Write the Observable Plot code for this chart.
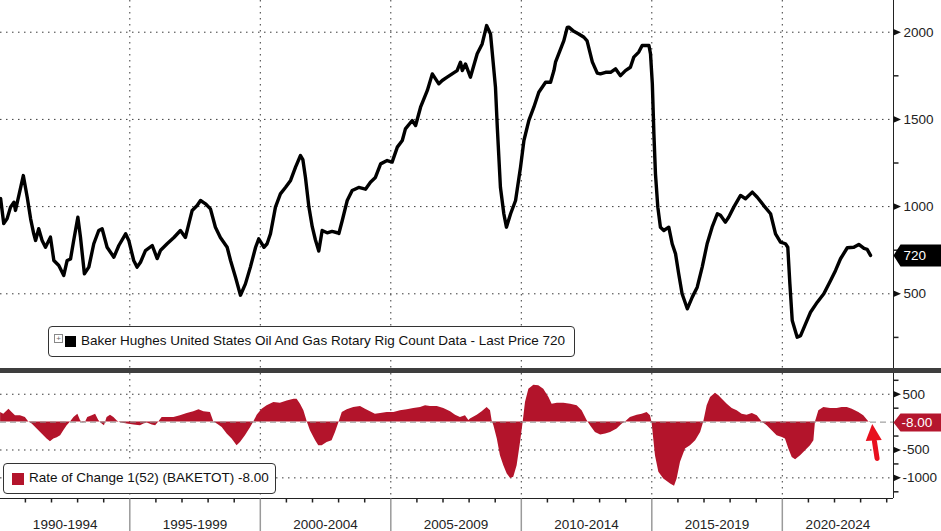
<!DOCTYPE html>
<html>
<head>
<meta charset="utf-8">
<script src="https://cdn.jsdelivr.net/npm/d3@7"></script>
<script src="https://cdn.jsdelivr.net/npm/@observablehq/plot@0.6"></script>
<style>
  html, body { margin: 0; padding: 0; background: #fff; }
  #wrap { position: relative; width: 941px; height: 531px; overflow: hidden; font-family: "Liberation Sans", Arial, sans-serif; }
  .panel { position: absolute; left: 0; }
  .sep { position: absolute; left: 0; top: 368px; width: 941px; height: 5px; background: #3e3e3e; }
  .legend { position: absolute; background: #fff; border: 1px solid #333; border-radius: 4px; box-sizing: border-box; }
  .legend span { position: absolute; white-space: nowrap; }
</style>
</head>
<body>
<div id="wrap">
  <div id="top" class="panel" style="top:0px"></div>
  <div class="sep"></div>
  <div id="bottom" class="panel" style="top:373px"></div>
  <div class="legend" style="left:48px;top:326px;width:527px;height:31px;">
    <span style="left:5px;top:7px;width:7px;height:7px;border:1px solid #888;font-size:8px;line-height:7px;text-align:center;color:#666;">+</span>
    <span style="left:16px;top:9px;width:11px;height:11px;background:#000;"></span>
    <span id="leg1" style="left:32px;top:6px;font-size:13.5px;color:#111;">Baker Hughes United States Oil And Gas Rotary Rig Count Data - Last Price 720</span>
  </div>
  <div class="legend" style="left:3px;top:463px;width:273px;height:31px;">
    <span style="left:8px;top:9px;width:12px;height:12px;background:#b3142b;"></span>
    <span id="leg2" style="left:25px;top:6px;font-size:13.5px;color:#111;">Rate of Change 1(52) (BAKETOT) -8.00</span>
  </div>
</div>
<script>
// ---------- DATA ----------
const rigYear = [
  1990.05,1990.17,1990.30,1990.43,1990.56,1990.62,1990.75,1990.92,1991.07,1991.20,
  1991.32,1991.39,1991.51,1991.64,1991.77,1991.96,1992.09,1992.28,1992.47,1992.60,
  1992.73,1992.85,1993.01,1993.11,1993.26,1993.43,1993.62,1993.81,1993.94,1994.13,
  1994.39,1994.58,1994.84,1994.96,1995.15,1995.28,1995.41,1995.60,1995.86,1996.05,
  1996.18,1996.43,1996.69,1996.94,1997.13,1997.26,1997.39,1997.58,1997.71,1997.90,
  1998.09,1998.28,1998.47,1998.73,1998.86,1999.05,1999.24,1999.43,1999.62,1999.82,
  1999.94,2000.14,2000.26,2000.39,2000.58,2000.77,2000.97,2001.16,2001.35,2001.54,
  2001.63,2001.73,2001.86,2001.99,2002.11,2002.24,2002.37,2002.56,2002.75,2002.95,
  2003.01,2003.14,2003.33,2003.52,2003.77,2004.03,2004.22,2004.41,2004.61,2004.86,
  2005.05,2005.25,2005.44,2005.56,2005.82,2005.95,2006.14,2006.40,2006.59,2006.84,
  2006.97,2007.16,2007.35,2007.54,2007.67,2007.74,2007.86,2008.05,2008.31,2008.50,
  2008.67,2008.82,2009.01,2009.08,2009.20,2009.33,2009.43,2009.59,2009.78,2009.97,
  2010.10,2010.29,2010.48,2010.67,2010.93,2011.12,2011.25,2011.31,2011.63,2011.76,
  2011.82,2012.01,2012.20,2012.40,2012.52,2012.72,2012.91,2013.03,2013.23,2013.42,
  2013.61,2013.80,2013.99,2014.18,2014.31,2014.50,2014.63,2014.89,2014.95,2015.02,
  2015.08,2015.14,2015.23,2015.33,2015.46,2015.65,2015.78,2015.91,2016.03,2016.16,
  2016.36,2016.55,2016.74,2016.93,2017.12,2017.31,2017.51,2017.63,2017.82,2017.95,
  2018.14,2018.40,2018.59,2018.85,2019.04,2019.29,2019.55,2019.74,2019.93,2020.12,
  2020.21,2020.29,2020.38,2020.57,2020.70,2020.89,2021.08,2021.34,2021.59,2021.85,
  2022.04,2022.23,2022.49,2022.74,2022.93,2023.13,2023.25,2023.38
];
const rigCount = [
  1046,903,931,997,1025,978,1064,1178,1054,930,
  844,806,873,806,767,825,691,662,605,691,
  700,806,939,825,615,653,787,863,873,767,
  710,777,844,806,691,653,681,748,777,702,
  750,787,823,863,823,901,978,1006,1035,1016,
  987,882,823,767,691,595,492,557,653,767,
  815,767,787,844,997,1073,1111,1150,1226,1293,
  1270,1167,1000,885,810,745,863,850,858,850,
  846,920,1035,1092,1110,1100,1140,1167,1245,1264,
  1255,1341,1379,1446,1494,1465,1570,1666,1761,1704,
  1723,1742,1761,1780,1828,1780,1818,1742,1876,1933,
  2038,1990,1685,1455,1111,959,882,959,1035,1226,
  1379,1494,1570,1656,1713,1713,1780,1828,1952,2027,
  2029,2005,1990,1971,1950,1830,1765,1761,1770,1770,
  1790,1751,1780,1799,1857,1886,1924,1924,1876,1704,
  1417,1188,997,882,863,882,787,729,615,500,
  414,481,538,653,787,882,959,950,911,940,
  997,1064,1045,1083,1054,1006,959,844,796,787,
  767,557,347,251,260,328,394,452,500,576,
  634,701,764,767,783,760,755,720
];
const rocYear = [
  1990.05,1990.17,1990.37,1990.49,1990.62,1990.81,1991.00,1991.13,1991.26,1991.45,
  1991.64,1991.83,1991.96,1992.09,1992.22,1992.35,1992.47,1992.60,1992.73,1992.86,
  1993.01,1993.11,1993.18,1993.30,1993.39,1993.56,1993.69,1993.81,1993.94,1994.03,
  1994.13,1994.26,1994.39,1994.52,1994.64,1994.90,1995.16,1995.41,1995.54,1995.67,
  1995.86,1995.99,1996.11,1996.24,1996.43,1996.69,1996.94,1997.20,1997.45,1997.65,
  1997.84,1998.09,1998.22,1998.35,1998.54,1998.73,1998.92,1999.11,1999.24,1999.43,
  1999.63,1999.75,1999.88,2000.07,2000.26,2000.52,2000.77,2001.03,2001.29,2001.41,
  2001.54,2001.67,2001.80,2001.92,2002.12,2002.24,2002.37,2002.56,2002.75,2002.88,
  2003.01,2003.14,2003.33,2003.58,2003.84,2004.03,2004.22,2004.41,2004.61,2004.86,
  2005.12,2005.37,2005.63,2005.88,2006.14,2006.33,2006.52,2006.78,2007.03,2007.29,
  2007.48,2007.67,2007.86,2007.99,2008.05,2008.31,2008.50,2008.69,2008.82,2008.88,
  2008.95,2009.08,2009.20,2009.33,2009.46,2009.59,2009.71,2009.84,2009.97,2010.07,
  2010.16,2010.29,2010.48,2010.67,2010.86,2011.06,2011.18,2011.38,2011.63,2011.89,
  2012.14,2012.33,2012.52,2012.65,2012.84,2013.04,2013.23,2013.42,2013.67,2013.87,
  2013.99,2014.18,2014.44,2014.63,2014.82,2014.95,2015.01,2015.14,2015.27,2015.46,
  2015.72,2015.87,2015.97,2016.10,2016.29,2016.48,2016.68,2016.87,2016.99,2017.12,
  2017.25,2017.44,2017.57,2017.70,2017.89,2018.08,2018.27,2018.46,2018.65,2018.85,
  2019.04,2019.23,2019.42,2019.61,2019.80,2020.00,2020.12,2020.25,2020.38,2020.51,
  2020.70,2020.89,2021.08,2021.21,2021.27,2021.40,2021.59,2021.85,2022.10,2022.29,
  2022.49,2022.68,2022.93,2023.12,2023.32,2023.38
];
const rocValue = [
  172,143,233,172,113,113,84,0,-36,-125,
  -215,-304,-353,-304,-280,-245,-156,-66,0,83,
  143,30,-10,-5,83,113,143,30,-36,-66,
  83,125,83,20,-10,-36,-50,-66,-36,-15,
  -50,-66,0,83,83,83,113,155,185,220,
  185,172,0,-36,-95,-215,-304,-424,-364,-245,
  -95,0,125,233,292,351,340,381,411,411,
  321,202,0,-156,-334,-424,-424,-364,-334,-185,
  -10,172,220,262,280,233,185,143,155,172,
  172,202,220,244,262,292,280,280,244,185,
  125,83,113,30,54,125,185,262,202,30,
  -66,-304,-603,-782,-931,-1010,-990,-782,-364,-10,
  351,591,662,651,591,441,321,340,340,321,
  292,202,30,-66,-185,-233,-215,-185,-125,-36,
  0,83,125,143,172,113,-10,-603,-901,-1020,
  -1110,-1152,-1020,-722,-483,-424,-334,-185,0,292,
  441,518,471,411,321,244,202,143,125,155,
  113,0,-66,-156,-245,-275,-304,-483,-633,-675,
  -603,-513,-424,-334,0,202,262,244,244,262,
  262,233,172,113,0,-8
];
const topTicks = [500, 1000, 1500, 2000];
const topMinor = [250, 750, 1250, 1750];
const bottomTicks = [500, -500, -1000];
const bottomMinor = [750, 250, -250, -750, -1250];
const periodStarts = [1990, 1995, 2000, 2005, 2010, 2015, 2020];
const periodLabels = ["1990-1994", "1995-1999", "2000-2004", "2005-2009", "2010-2014", "2015-2019", "2020-2024"];
const lastPrice = 720;
const lastRoc = -8.00;
const arrowNote = [{x1: 2023.63, y1: -652, x2: 2023.53, y2: -345, tipX: 2023.445, tipY: -32}];

// ---------- helpers ----------
const xDomain = [1990.046, 2024.26];
const xMax = xDomain[1];
const rig = rigYear.map((x, i) => ({x, y: rigCount[i]}));
const roc = rocYear.map((x, i) => ({x, y: rocValue[i]}));
const yearTicks = d3.range(1991, 2025).filter(y => y % 5 !== 0);
const periods = periodStarts.map((s, i) => {
  const a = Math.max(s, xDomain[0]), b = Math.min(s + 5, xDomain[1]);
  return {mid: (a + b) / 2, label: periodLabels[i]};
});
const sym = f => ({draw(ctx, size) { f(ctx, Math.sqrt(size / Math.PI)); }});
const triRight = sym((c) => { c.moveTo(0, -3.3); c.lineTo(7.5, 0); c.lineTo(0, 3.3); c.closePath(); });
const hTick = sym((c) => { c.moveTo(0, 0); c.lineTo(5, 0); });
const vTick = len => sym((c) => { c.moveTo(0, 0); c.lineTo(0, len); });
const tag = (w, h) => sym((c) => { c.moveTo(0, 0); c.lineTo(7, -h / 2); c.lineTo(w, -h / 2); c.lineTo(w, h / 2); c.lineTo(7, h / 2); c.closePath(); });
const arrowHead = sym((c) => { c.moveTo(0, 0); c.lineTo(-6.5, 17); c.lineTo(9.5, 16); c.closePath(); });
const dotted = {stroke: "#3a3a3a", strokeWidth: 1, strokeDasharray: "1.5,4.5"};
const font = {fontFamily: "Liberation Sans, Arial, sans-serif", fontSize: "13.5px", background: "transparent", overflow: "visible"};
const RED = "#b3142b";

// ---------- top panel ----------
const topPlot = Plot.plot({
  width: 941, height: 368,
  marginLeft: 0, marginRight: 48, marginTop: 0, marginBottom: 0,
  style: font,
  x: {domain: xDomain, axis: null},
  y: {domain: [71.7, 2181.8], axis: null},
  marks: [
    Plot.ruleY(topTicks, dotted),
    Plot.ruleX(periodStarts.slice(1), dotted),
    Plot.line(rig, {x: "x", y: "y", stroke: "#000", strokeWidth: 3.4, strokeLinejoin: "round", strokeLinecap: "round"}),
    Plot.ruleX([xMax], {stroke: "#222", strokeWidth: 1}),
    Plot.dot(topMinor, {x: () => xMax, y: d => d, symbol: hTick, r: 3, stroke: "#222", fill: "none"}),
    Plot.dot(topTicks, {x: () => xMax, y: d => d, symbol: triRight, r: 3, fill: "#111", stroke: "none"}),
    Plot.text(topTicks, {x: () => xMax, y: d => d, text: d => String(d), textAnchor: "start", dx: 10, fill: "#222", fontSize: 13.5}),
    Plot.dot([lastPrice], {x: () => xMax, y: d => d, symbol: tag(48, 22), r: 3, fill: "#000", stroke: "none"}),
    Plot.text([lastPrice], {x: () => xMax, y: d => d, text: d => String(d), textAnchor: "start", dx: 10, fill: "#fff", fontSize: 13.5})
  ]
});
document.getElementById("top").appendChild(topPlot);

// ---------- bottom panel ----------
const yB = [-1370, 872];
const bottomPlot = Plot.plot({
  width: 941, height: 158,
  marginLeft: 0, marginRight: 48, marginTop: 0, marginBottom: 33,
  style: font,
  x: {domain: xDomain, axis: null},
  y: {domain: yB, axis: null},
  marks: [
    Plot.ruleY(bottomTicks, dotted),
    Plot.ruleX(periodStarts.slice(1), dotted),
    Plot.areaY(roc, {x: "x", y: "y", fill: RED, curve: "linear"}),
    Plot.ruleY([0], {stroke: "#8c8c8c", strokeWidth: 1, strokeDasharray: "6,4"}),
    Plot.ruleX([xMax], {stroke: "#222", strokeWidth: 1}),
    Plot.ruleY([yB[0]], {stroke: "#222", strokeWidth: 1}),
    Plot.dot(bottomMinor, {x: () => xMax, y: d => d, symbol: hTick, r: 3, stroke: "#222", fill: "none"}),
    Plot.dot(bottomTicks, {x: () => xMax, y: d => d, symbol: triRight, r: 3, fill: "#111", stroke: "none"}),
    Plot.text(bottomTicks, {x: () => xMax, y: d => d, text: d => String(d), textAnchor: "start", dx: 9, fill: "#222", fontSize: 13.5}),
    Plot.dot([lastRoc], {x: () => xMax, y: d => d, symbol: tag(48, 18), r: 3, fill: "#b5162e", stroke: "none"}),
    Plot.text([lastRoc], {x: () => xMax, y: d => d, text: d => d.toFixed(2), textAnchor: "start", dx: 8, fill: "#fff", fontSize: 13.5}),
    Plot.dot(yearTicks, {x: d => d, y: () => yB[0], symbol: vTick(4), r: 3, stroke: "#222", fill: "none"}),
    Plot.dot(periodStarts.slice(1), {x: d => d, y: () => yB[0], symbol: vTick(34), r: 3, stroke: "#9a9a9a", fill: "none"}),
    Plot.text(periods, {x: "mid", y: () => yB[0], text: "label", dy: 26, fill: "#222", fontSize: 13.5}),
    Plot.link(arrowNote, {x1: "x1", y1: "y1", x2: "x2", y2: "y2", stroke: "#e8101e", strokeWidth: 5, strokeLinecap: "round"}),
    Plot.dot(arrowNote, {x: "tipX", y: "tipY", symbol: arrowHead, r: 3, fill: "#e8101e", stroke: "none"})
  ]
});
document.getElementById("bottom").appendChild(bottomPlot);
</script>
</body>
</html>
